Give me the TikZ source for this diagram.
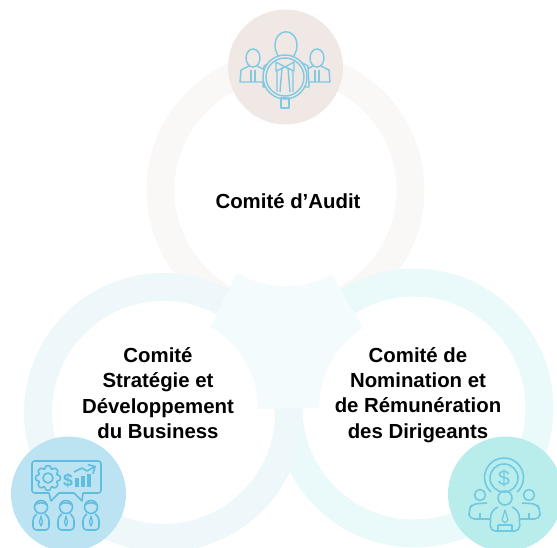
\documentclass[tikz,border=0pt]{standalone}
\usepackage{fontspec}
\setmainfont{Liberation Sans}
\usetikzlibrary{arrows.meta, calc}

\definecolor{auditband}{HTML}{FAF8F7}
\definecolor{strategyband}{HTML}{EEF7FA}
\definecolor{nominationband}{HTML}{EAF9F9}
\definecolor{hubfill}{HTML}{F4FBFD}
\definecolor{auditdisc}{HTML}{F0E8E5}
\definecolor{strategydisc}{HTML}{BBE3F1}
\definecolor{nominationdisc}{HTML}{B9EDEC}
\definecolor{auditline}{HTML}{7FC9E2}
\definecolor{strategyline}{HTML}{5FBEE0}
\definecolor{nominationline}{HTML}{70C9E3}

\begin{document}
\begin{tikzpicture} [x=0.02cm, y=-0.02cm,
	band/.style={line width=0.56cm},
	disc/.style={circle, minimum size=2.3cm, inner sep=0pt},
	title/.style={font=\bfseries\fontsize{11.6}{14.4}\selectfont, align=center, text=black},
	auditicon/.style={draw=auditline, line width=0.8pt, line join=round},
	strategyicon/.style={draw=strategyline, line width=0.9pt, line join=round},
	nominationicon/.style={draw=nominationline, line width=0.9pt, line join=round}]
	
	\clip (0,0) rectangle (557,547);
	
	% the three rings, back to front
	\draw[band, auditband] (285.5,190) circle (125);
	\draw[band, nominationband] (414,408) circle (125.5);
	\draw[band, strategyband] (163.5,412.5) circle (125.5);
	
	% piece in the middle
	\fill[hubfill] (237,273) arc[start angle=120.3, end angle=61.3, radius=96.5]
		-- (363,328) arc[start angle=237.5, end angle=180, radius=95]
		-- (258,409) arc[start angle=0, end angle=-60, radius=95]
		-- cycle;
	
	\node[disc, fill=auditdisc] (auditdisc) at (285.5,67) {};
	\node[disc, fill=strategydisc] (strategydisc) at (68.5,494) {};
	\node[disc, fill=nominationdisc] (nominationdisc) at (505.5,494) {};
	
	\node[title] (audit) at (288,201) {Comité d’Audit};
	\node[title] (strategy) at (158,393) {Comité\\Stratégie et\\Développement\\du Business};
	\node[title] (nomination) at (418,395) {Comité de\\Nomination et\\de Rémunération\\des Dirigeants};
	
	% audit icon
	\foreach \px in {253,317} {
		\draw[auditicon] (\px,58) ellipse (7 and 9);
		\draw[auditicon] (\px-4,66) -- (\px-12,70) -- (\px-13,82) -- (\px+13,82) -- (\px+12,70) -- (\px+4,66);
		\draw[auditicon] (\px-2,70) -- (\px-2,82) (\px+2,70) -- (\px+2,82);
	}
	\draw[auditicon, fill=auditdisc] (275,46) .. controls (275,27) and (297,27) .. (297,46)
		.. controls (297,52) and (294,54) .. (293,58) -- (279,58) .. controls (278,54) and (275,52) .. (275,46);
	\draw[auditicon, fill=auditdisc] (279,58) -- (264,66) -- (263,87) -- (309,87) -- (308,66) -- (293,58);
	\draw[auditicon, fill=auditdisc] (285,77) circle (22);
	\draw[auditicon] (285,77) circle (19);
	\draw[auditicon] (285,97) -- (285,98) (281,98) rectangle (289,108);
	\draw[auditicon] (276,62) -- (285,67) -- (294,62) -- (294,71) -- (285,67) -- (276,71) -- cycle;
	\draw[auditicon] (282,68) -- (280,92) (288,68) -- (290,92) (277,71) -- (277,92) (293,71) -- (293,92);
	
	% strategy icon
	\draw[strategyicon, rounded corners=1.5pt] (49,493) -- (32,493) -- (32,461) -- (101,461) -- (101,493) -- (83,493);
	\draw[strategyicon] (49,493) -- (51,501) -- (59,493) -- (74,493) -- (82,501) -- (83,493);
	\draw[strategyicon, rounded corners=0.6pt] ([shift={(48,478)}]-18:9.5)
		\foreach \a in {0,45,...,315} {
			-- ([shift={(48,478)}]\a-18:9.5) -- ([shift={(48,478)}]\a-11:12.5)
			-- ([shift={(48,478)}]\a+11:12.5) -- ([shift={(48,478)}]\a+18:9.5)
		} -- cycle;
	\draw[strategyicon] (48,478) circle (5);
	\node[text=strategyline, font=\bfseries\fontsize{10}{12}\selectfont, inner sep=0pt] (dollarone) at (68,481) {\$};
	\foreach \bx/\by in {77/478,83/476,89/474} {
		\draw[strategyline, line width=2pt] (\bx,\by) -- (\bx,487);
	}
	\draw[strategyicon, -{Straight Barb[length=3pt]}] (74,472) -- (82,468) -- (87,471) -- (96,466);
	\foreach \px in {41,66,91} {
		\draw[strategyicon] (\px,507) circle (6.5);
		\draw[strategyicon] (\px-6,505) .. controls (\px-3,502) and (\px+3,502) .. (\px+6,505);
		\draw[strategyicon, rounded corners=2pt] (\px-4,514) -- (\px-8,517) -- (\px-8,530) -- (\px+8,530) -- (\px+8,517) -- (\px+4,514);
		\draw[strategyicon, line width=0.7pt] (\px,516) -- (\px-1.5,522) -- (\px,526) -- (\px+1.5,522) -- cycle;
	}
	
	% nomination icon
	\draw[nominationicon] (504,478) circle (14);
	\draw[nominationicon] (491,492) arc[start angle=132, delta angle=276, radius=19.5];
	\node[text=nominationline, font=\fontsize{12}{14}\selectfont, inner sep=0pt] (dollartwo) at (504,478) {\$};
	\draw[nominationicon] (505,498) circle (7);
	\foreach \px/\sx in {480/-1,529/1} {
		\draw[nominationicon] (\px,495) circle (5.5);
		\draw[nominationicon, rounded corners=3pt] (\px-\sx*7,503) -- (\px+\sx*8,504) -- (\px+\sx*11,510) -- (\px+\sx*11,519) -- (\px-\sx*10,519);
		\draw[nominationicon] (\px,513) -- (\px,519);
	}
	\draw[nominationicon, fill=nominationdisc, rounded corners=3pt] (498,507) -- (491,511) -- (490,531) -- (520,531) -- (519,511) -- (512,507);
	\draw[nominationicon, line width=0.7pt] (505,510) -- (502,520) -- (505,523) -- (508,520) -- cycle;
	\draw[nominationicon] (498,525) -- (498,531) (498,525) -- (512,525) -- (512,531);
	
\end{tikzpicture}
\end{document}
